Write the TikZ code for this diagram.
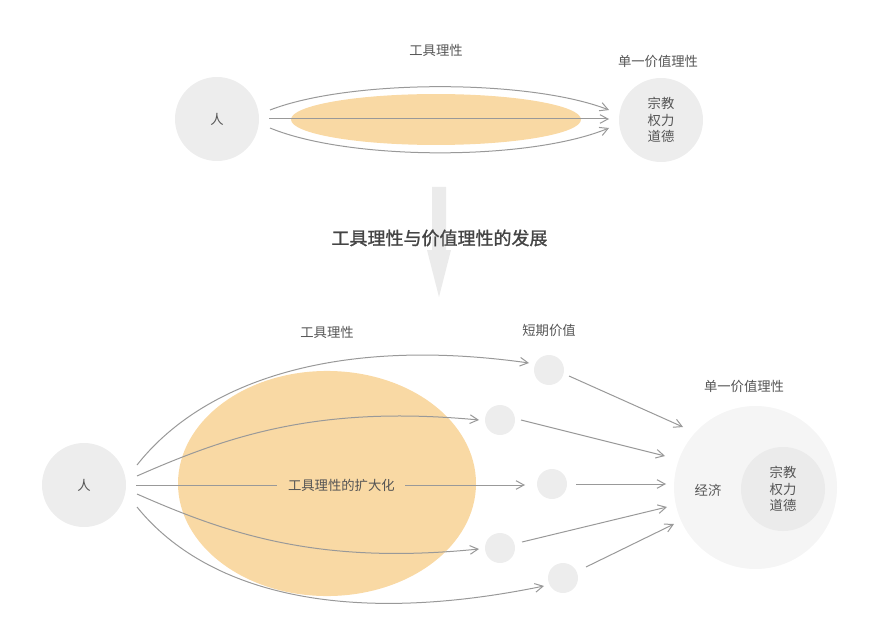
\documentclass[tikz,border=0pt]{standalone}
\usepackage{fontspec}
\setmainfont{Noto Sans CJK SC}
\newfontfamily\titlefont[FakeBold=1.2]{Noto Sans CJK SC}
\usetikzlibrary{arrows.meta}
\definecolor{cgrey}{HTML}{EDEDED}
\definecolor{cpale}{HTML}{F5F5F5}
\definecolor{cinner}{HTML}{EBEBEB}
\definecolor{corange}{HTML}{F9D9A4}
\definecolor{cline}{HTML}{999999}
\definecolor{ctext}{HTML}{555555}
\definecolor{ctitle}{HTML}{444444}
\definecolor{carrow}{HTML}{EBEBEB}
\tikzset{
  bubble/.style={circle, fill=cgrey, minimum size=63pt, inner sep=0pt, text=ctext, font=\fontsize{10}{12.6}\selectfont, align=center},
  dotnode/.style={circle, fill=cgrey, minimum size=22.5pt, inner sep=0pt},
  conn/.style={draw=cline, line width=0.75pt, -{Straight Barb[length=6pt,width=6.5pt]}},
  lbl/.style={text=ctext, font=\fontsize{10}{12}\selectfont, inner sep=0pt},
}
\begin{document}
\begin{tikzpicture}[x=0.75pt,y=-0.75pt]
\useasboundingbox (0,0) rectangle (878,638);
% ---------- top ----------
\fill[corange] (436,119.5) ellipse [x radius=108.75pt, y radius=19.1pt];
\node[bubble] (pt) at (217,119) {人};
\node[bubble] (vt) at (661,120) {宗教\\权力\\道德};
\node[lbl] (lt1) at (436,50) {工具理性};
\node[lbl] (lt2) at (658,61) {单一价值理性};
\coordinate (ta1) at (270,110);
\coordinate (ta2) at (269,119);
\coordinate (ta3) at (270,128);
\coordinate (tb1) at (609,110);
\coordinate (tb2) at (609,119);
\coordinate (tb3) at (609,128);
\draw[conn] (ta1) .. controls (350,79) and (529,79) .. (tb1);
\draw[conn] (ta2) -- (tb2);
\draw[conn] (ta3) .. controls (350,161) and (529,161) .. (tb3);
% ---------- middle arrow ----------
\fill[carrow] (432,187) -- (446,187) -- (446,250) -- (451,250) -- (439,297) -- (427,250) -- (432,250) -- cycle;
\node[text=ctitle, font=\titlefont\fontsize{13.5}{16}\selectfont, inner sep=0pt] (title) at (439.5,238) {工具理性与价值理性的发展};
% ---------- bottom ----------
\fill[corange] (327,483.5) ellipse [x radius=111.75pt, y radius=84.4pt];
\node[bubble] (pb) at (84,485) {人};
\node[circle, fill=cpale, minimum size=122.25pt, inner sep=0pt] (vb) at (755.5,487.5) {};
\node[bubble, fill=cinner] (vin) at (783,489) {宗教\\权力\\道德};
\node[lbl] (econ) at (708,490) {经济};
\node[dotnode] (c1) at (549,370) {};
\node[dotnode] (c2) at (500,420) {};
\node[dotnode] (c3) at (552,484) {};
\node[dotnode] (c4) at (500,548) {};
\node[dotnode] (c5) at (563,578) {};
\node[lbl] (lb1) at (327,332) {工具理性};
\node[lbl] (lb2) at (549,330) {短期价值};
\node[lbl] (lb3) at (744,386) {单一价值理性};
% start points
\coordinate (s1) at (137,465);
\coordinate (s2) at (137,476);
\coordinate (s3) at (136,485);
\coordinate (s4) at (137,494);
\coordinate (s5) at (137,507);
% end points near small circles
\coordinate (e1) at (529,363);
\coordinate (e2) at (479,420);
\coordinate (e3) at (525,485);
\coordinate (e4) at (479,549);
\coordinate (e5) at (544,586);
\draw[conn] (s1) .. controls (200,385) and (330,335) .. (e1);
\draw[conn] (s2) .. controls (230,435) and (320,405) .. (e2);
\draw[conn] (s3) -- node[pos=0.528, fill=corange, text=ctext, font=\fontsize{10}{12}\selectfont, inner xsep=8pt, inner ysep=2pt] (mid) {工具理性的扩大化} (e3);
\draw[conn] (s4) .. controls (230,535) and (320,565) .. (e4);
\draw[conn] (s5) .. controls (200,585) and (330,630) .. (e5);
% from small circles to value circle
\coordinate (f1) at (569,376);
\coordinate (f2) at (521,420);
\coordinate (f3) at (576,484);
\coordinate (f4) at (522,542);
\coordinate (f5) at (586,567);
\coordinate (g1) at (683,427);
\coordinate (g2) at (665,456);
\coordinate (g3) at (666,484);
\coordinate (g4) at (667,507);
\coordinate (g5) at (674,524);
\draw[conn] (f1) -- (g1);
\draw[conn] (f2) -- (g2);
\draw[conn] (f3) -- (g3);
\draw[conn] (f4) -- (g4);
\draw[conn] (f5) -- (g5);
\end{tikzpicture}
\end{document}
